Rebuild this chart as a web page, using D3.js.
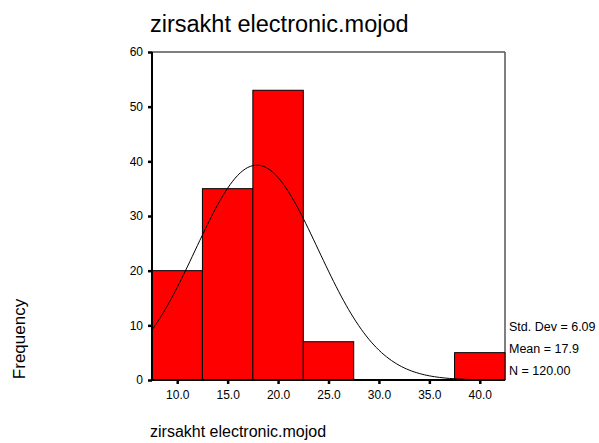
<!DOCTYPE html>
<html lang="en">
<head>
    <meta charset="UTF-8">
    <title>zirsakht electronic.mojod</title>
    <script src="https://cdnjs.cloudflare.com/ajax/libs/d3/7.9.0/d3.min.js"></script>
    <style>
        body { margin: 0; background: white; }
        svg text { font-family: "Liberation Sans", Arial, sans-serif; fill: black; }
    </style>
</head>
<body>
    <svg id="chart" width="599" height="443"></svg>
    <script>
        // histogram bins (lower edge) and counts
        const binStarts = [7.5, 12.5, 17.5, 22.5, 27.5, 32.5, 37.5];
        const binWidth = 5;
        const counts = [20, 35, 53, 7, 0, 0, 5];
        const xTicks = [10, 15, 20, 25, 30, 35, 40];
        const yTicks = [0, 10, 20, 30, 40, 50, 60];
        const stats = { sd: 6.09, mean: 17.9, n: 120 };
        const statLabels = ['Std. Dev = 6.09', 'Mean = 17.9', 'N = 120.00'];

        const svg = d3.select('#chart');
        const plotL = 152, plotR = 505, plotT = 52, plotB = 380;

        const x = d3.scaleLinear().domain([7.5, 42.5]).range([plotL, plotR]);
        const y = d3.scaleLinear().domain([0, 60]).range([plotB, plotT]);

        // frame (top/right lighter)
        svg.append('line').attr('x1', plotL).attr('x2', plotR).attr('y1', plotT).attr('y2', plotT)
            .attr('stroke', '#555').attr('stroke-width', 1.5);
        svg.append('line').attr('x1', plotR).attr('x2', plotR).attr('y1', plotT).attr('y2', plotB)
            .attr('stroke', '#555').attr('stroke-width', 1.5);

        // bars
        const bins = binStarts.map((b, i) => ({ x0: b, x1: b + binWidth, n: counts[i] })).filter(d => d.n > 0);
        svg.selectAll('rect.bar').data(bins).enter().append('rect')
            .attr('class', 'bar')
            .attr('x', d => x(d.x0))
            .attr('width', d => x(d.x1) - x(d.x0))
            .attr('y', d => y(d.n))
            .attr('height', d => y(0) - y(d.n))
            .attr('fill', '#ff0000')
            .attr('stroke', 'black')
            .attr('stroke-width', 1);

        // fitted normal curve from the displayed mean / std. dev
        const curve = d3.range(7.5, 42.51, 0.25).map(v => [v,
            stats.n * binWidth / (stats.sd * Math.sqrt(2 * Math.PI)) *
            Math.exp(-0.5 * Math.pow((v - stats.mean) / stats.sd, 2))]);
        svg.append('path').datum(curve)
            .attr('d', d3.line().x(d => x(d[0])).y(d => y(d[1])))
            .attr('fill', 'none').attr('stroke', 'black').attr('stroke-width', 1);

        // axes
        const yAxis = svg.append('g').attr('transform', `translate(${plotL},0)`)
            .call(d3.axisLeft(y).tickValues(yTicks).tickFormat(d3.format('d')).tickSize(4).tickPadding(5));
        const xAxis = svg.append('g').attr('transform', `translate(0,${plotB})`)
            .call(d3.axisBottom(x).tickValues(xTicks).tickFormat(d3.format('.1f')).tickSize(4).tickPadding(6));
        [yAxis, xAxis].forEach(g => {
            g.select('.domain').attr('stroke', 'black').attr('stroke-width', 2);
            g.selectAll('.tick line').attr('stroke', 'black').attr('stroke-width', 2.5);
            g.selectAll('.tick text').attr('font-size', 12).attr('fill', 'black')
                .attr('font-family', '"Liberation Sans", Arial, sans-serif');
        });
        yAxis.select('.domain').attr('d', `M0,${plotB}V${plotT}`);
        xAxis.select('.domain').attr('d', `M${plotL},0H${plotR}`);

        // stats
        svg.selectAll('text.stat').data(statLabels).enter().append('text')
            .attr('class', 'stat')
            .attr('x', plotR + 4)
            .attr('y', (d, i) => 331 + i * 22)
            .attr('font-size', 12.5)
            .text(d => d);

        // titles
        svg.append('text').attr('x', 150).attr('y', 32).attr('font-size', 23.5)
            .text('zirsakht electronic.mojod');
        svg.append('text').attr('x', 150).attr('y', 437).attr('font-size', 16)
            .text('zirsakht electronic.mojod');
        svg.append('text').attr('transform', 'translate(25,339) rotate(-90)')
            .attr('text-anchor', 'middle').attr('font-size', 17)
            .text('Frequency');
    </script>
</body>
</html>
